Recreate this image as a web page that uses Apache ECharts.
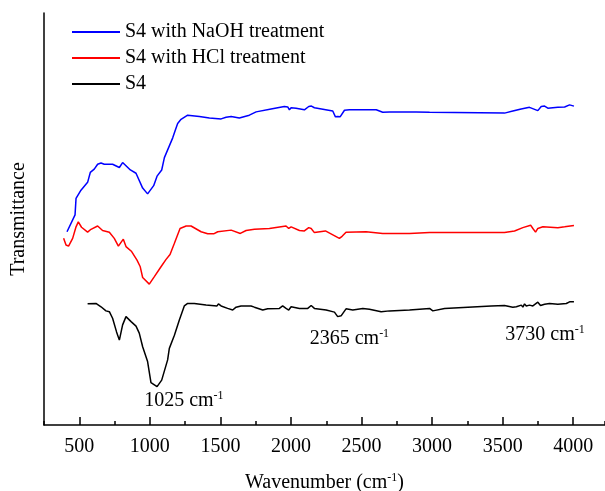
<!DOCTYPE html>
<html>
<head>
<meta charset="utf-8">
<script src="https://cdn.jsdelivr.net/npm/echarts@6/dist/echarts.min.js"></script>
<style>
  html, body { margin: 0; padding: 0; background: #fff; }
  #chart { width: 605px; height: 491px; }
</style>
</head>
<body>
<div id="chart"></div>
<script>
// wavenumber (cm-1) and relative transmittance
const naohWave = [413, 470, 477, 512, 559, 578, 606, 630, 654, 677, 736, 784, 807, 862, 902, 949, 984, 1027, 1051, 1084, 1103, 1162, 1179, 1197, 1221, 1268, 1351, 1422, 1505, 1540, 1576, 1634, 1705, 1753, 1859, 1953, 1977, 1989, 2001, 2036, 2095, 2126, 2145, 2166, 2296, 2315, 2331, 2348, 2379, 2414, 2604, 2650, 2698, 2887, 2982, 3513, 3572, 3631, 3690, 3749, 3773, 3797, 3820, 3891, 3939, 3974, 4005];
const naohT = [46.9, 51.0, 55.0, 57.0, 58.9, 61.3, 62.1, 63.3, 63.6, 63.3, 63.3, 62.5, 63.7, 61.9, 61.1, 57.5, 56.1, 58.1, 60.4, 61.9, 64.9, 69.7, 71.4, 73.2, 74.2, 75.2, 74.9, 74.5, 74.3, 74.7, 74.9, 74.5, 75.2, 76.0, 76.7, 77.3, 77.2, 76.5, 77.0, 76.9, 76.5, 77.3, 77.4, 77.0, 76.2, 74.8, 74.9, 74.8, 76.4, 76.5, 76.5, 75.9, 76.0, 76.0, 75.9, 75.7, 76.2, 76.7, 77.1, 76.3, 77.3, 77.4, 76.9, 77.1, 77.2, 77.7, 77.4];

const hclWave = [389, 406, 424, 453, 477, 493, 516, 559, 583, 630, 665, 713, 748, 777, 812, 831, 871, 909, 932, 949, 996, 1032, 1079, 1115, 1143, 1174, 1214, 1257, 1292, 1363, 1410, 1452, 1481, 1576, 1641, 1682, 1741, 1847, 1965, 1984, 2001, 2060, 2095, 2126, 2143, 2166, 2244, 2343, 2362, 2390, 2532, 2650, 2840, 2982, 3513, 3584, 3643, 3698, 3714, 3733, 3749, 3785, 3891, 3939, 4005];
const hclT = [45.3, 43.7, 43.4, 45.3, 48.1, 49.3, 48.0, 46.8, 47.5, 48.3, 47.2, 46.8, 45.3, 43.4, 45.1, 43.3, 42.1, 40.0, 38.4, 35.8, 34.2, 36.0, 38.4, 40.2, 41.4, 44.1, 47.7, 48.3, 48.3, 46.9, 46.4, 46.4, 46.9, 47.3, 46.5, 47.2, 47.5, 47.7, 48.3, 47.7, 48.1, 47.2, 47.1, 47.9, 47.7, 46.7, 47.1, 45.3, 45.8, 46.8, 46.9, 46.5, 46.5, 46.7, 46.7, 47.1, 47.9, 48.5, 47.7, 46.8, 47.7, 48.1, 47.9, 48.1, 48.4];

const s4Wave = [559, 618, 654, 689, 713, 736, 764, 784, 807, 831, 867, 902, 925, 949, 984, 1008, 1051, 1084, 1126, 1138, 1174, 1209, 1244, 1268, 1315, 1398, 1476, 1486, 1505, 1551, 1587, 1611, 1646, 1717, 1741, 1800, 1835, 1918, 1941, 1965, 1984, 2001, 2060, 2119, 2143, 2166, 2249, 2308, 2331, 2355, 2390, 2438, 2509, 2556, 2639, 2698, 2840, 2911, 2982, 3005, 3088, 3419, 3513, 3572, 3597, 3632, 3643, 3655, 3667, 3690, 3714, 3749, 3768, 3797, 3832, 3891, 3951, 3974, 4005];
const s4T = [29.4, 29.5, 28.7, 27.7, 27.5, 25.9, 22.6, 20.6, 24.3, 26.3, 25.1, 24.0, 22.3, 19.0, 15.4, 10.3, 9.3, 10.9, 15.8, 18.6, 21.8, 25.5, 28.9, 29.5, 29.5, 29.1, 28.9, 29.4, 28.9, 28.3, 27.9, 28.6, 28.9, 28.9, 28.6, 27.9, 28.2, 28.3, 28.9, 28.3, 27.9, 28.7, 28.3, 28.3, 29.0, 28.3, 27.9, 27.4, 26.3, 26.5, 28.2, 27.9, 28.3, 28.1, 27.5, 27.7, 27.9, 28.1, 28.3, 27.7, 28.3, 28.9, 29.0, 28.6, 28.7, 29.1, 28.6, 29.4, 28.9, 29.1, 28.9, 29.8, 29.0, 29.3, 29.5, 29.3, 29.5, 29.9, 29.9];

const majorTicks = [500, 1000, 1500, 2000, 2500, 3000, 3500, 4000];

// peak labels: text, position of label centre (wavenumber, transmittance)
const peakText = ['1025', '2365', '3730'];
const peakPos = [[1241, 5.8], [2414, 20.9], [3800, 21.8]];

const font = "'Liberation Serif', 'Times New Roman', serif";
const zip = (xs, ys) => xs.map((x, i) => [x, ys[i]]);

const chart = echarts.init(document.getElementById('chart'));

chart.setOption({
  animation: false,
  textStyle: { fontFamily: font, color: '#000' },
  grid: { left: 44, right: 0, top: 13, bottom: 66, containLabel: false, outerBoundsMode: 'none' },
  legend: {
    orient: 'vertical',
    left: 66,
    top: 17,
    itemWidth: 48,
    itemHeight: 14,
    itemGap: 6,
    itemStyle: { opacity: 0 },
    textStyle: { fontFamily: font, fontSize: 20, color: '#000', lineHeight: 20 },
    data: ['S4 with NaOH treatment', 'S4 with HCl treatment', 'S4']
  },
  xAxis: [{
    type: 'value',
    min: 250,
    max: 4225,
    interval: 250,
    name: 'Wavenumber (cm{sup|-1})',
    nameLocation: 'middle',
    nameGap: 47,
    nameTextStyle: {
      fontFamily: font, fontSize: 20, color: '#000', lineHeight: 22,
      rich: { sup: { fontFamily: font, fontSize: 12, verticalAlign: 'top', lineHeight: 22 } }
    },
    splitLine: { show: false },
    axisLine: { show: true, onZero: false, lineStyle: { color: '#000', width: 1.5 } },
    axisTick: { show: true, inside: true, length: 8, customValues: majorTicks, lineStyle: { color: '#000', width: 1.5 } },
    axisLabel: { customValues: majorTicks, margin: 12, fontFamily: font, fontSize: 20, color: '#000', formatter: v => String(v) }
  }, {
    // short ticks every 250
    type: 'value',
    position: 'bottom',
    min: 250,
    max: 4225,
    interval: 250,
    splitLine: { show: false },
    axisLine: { show: false },
    axisTick: { show: true, inside: true, length: 4, lineStyle: { color: '#000', width: 1.5 } },
    axisLabel: { show: false }
  }],
  yAxis: {
    type: 'value',
    min: 0,
    max: 100,
    name: 'Transmittance',
    nameLocation: 'middle',
    nameGap: 15,
    nameTextStyle: { fontFamily: font, fontSize: 20, color: '#000' },
    splitLine: { show: false },
    axisLine: { show: true, lineStyle: { color: '#000', width: 1.5 } },
    axisTick: { show: false },
    axisLabel: { show: false }
  },
  series: [{
    name: 'S4 with NaOH treatment',
    type: 'line',
    symbol: 'none',
    lineStyle: { color: '#0000ff', width: 1.5 },
    itemStyle: { color: '#0000ff' },
    data: zip(naohWave, naohT)
  }, {
    name: 'S4 with HCl treatment',
    type: 'line',
    symbol: 'none',
    lineStyle: { color: '#ff0000', width: 1.5 },
    itemStyle: { color: '#ff0000' },
    data: zip(hclWave, hclT)
  }, {
    name: 'S4',
    type: 'line',
    symbol: 'none',
    lineStyle: { color: '#000000', width: 1.5 },
    itemStyle: { color: '#000000' },
    data: zip(s4Wave, s4T),
    markPoint: {
      symbol: 'circle',
      symbolSize: 0,
      label: {
        show: true,
        position: 'inside',
        fontFamily: font,
        fontSize: 20,
        color: '#000',
        lineHeight: 22,
        formatter: p => p.name + ' cm{sup|-1}',
        rich: { sup: { fontFamily: font, fontSize: 12, verticalAlign: 'top', lineHeight: 22, color: '#000' } }
      },
      data: peakText.map((t, i) => ({ name: t, coord: peakPos[i] }))
    }
  }]
});
</script>
</body>
</html>
